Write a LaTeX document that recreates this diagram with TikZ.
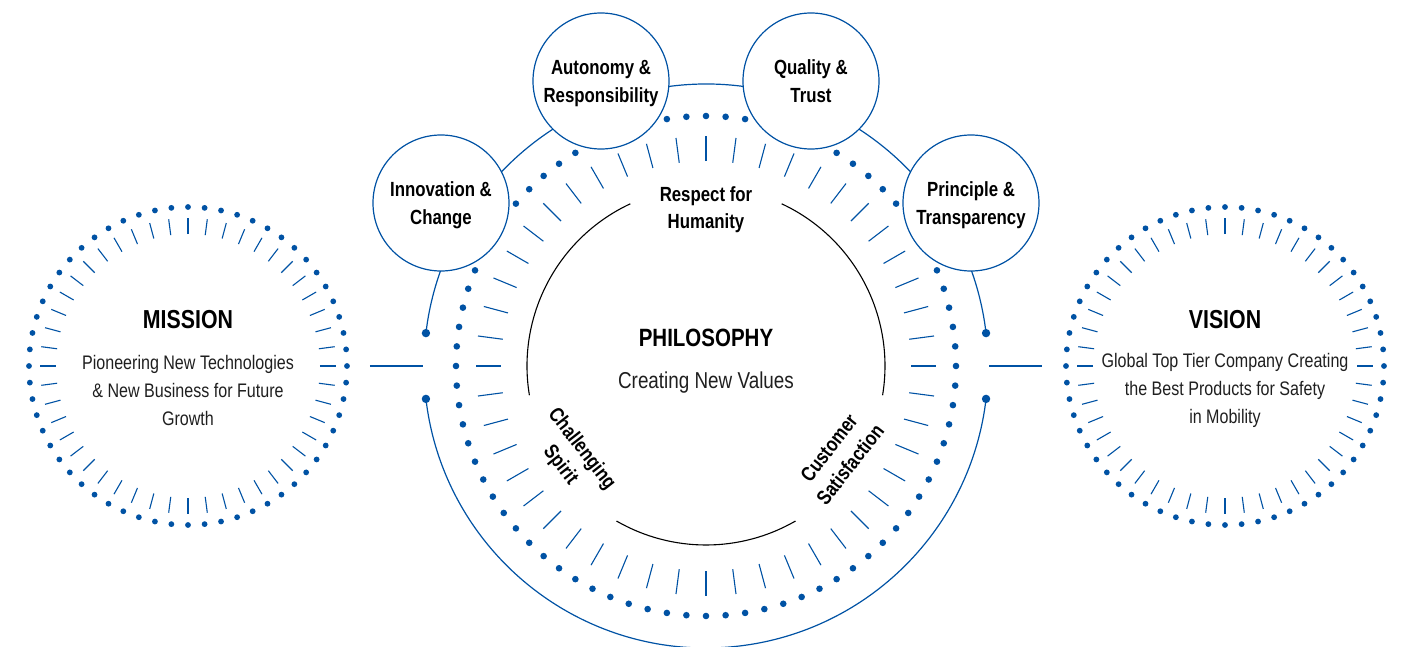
\documentclass[tikz,border=0pt]{standalone}
\usepackage{fontspec}
\setmainfont{Liberation Sans}[FakeStretch=0.82]
\usetikzlibrary{positioning}
\definecolor{hblue}{RGB}{0,82,164}

\begin{document}
\begin{tikzpicture}[x=1pt,y=1pt,
  ringtick/.style={draw=hblue, line width=1.1pt},
  ringdot/.style={fill=hblue},
  linkline/.style={draw=hblue, line width=1.2pt},
  innerarc/.style={draw=black, line width=1.1pt},
  valuecircle/.style={circle, draw=hblue, line width=1.2pt, fill=white,
    minimum size=136pt, inner sep=0pt, align=center, text depth=0pt,
    font=\bfseries\fontsize{20.5}{28}\selectfont},
  headtxt/.style={font=\bfseries\fontsize{26}{30}\selectfont},
  bodytxt/.style={align=center, text=black!88, font=\fontsize{19.6}{28}\selectfont},
  labeltxt/.style={align=center, inner sep=0pt, text depth=0pt,
    font=\bfseries\fontsize{20.5}{27}\selectfont}]

  \useasboundingbox (-706,-280) rectangle (700,366);

  % Mission and vision rings
  \foreach \cx in {-518,519}{
    \foreach \a in {0,7.5,...,352.5}
      \draw[ringtick] ([shift={(\cx,0)}]\a:132) -- ([shift={(\cx,0)}]\a:148);
    \foreach \a in {0,6,...,354}
      \fill[ringdot] ([shift={(\cx,0)}]\a:159) circle[radius=2.9];
  }

  % Philosophy ring
  \foreach \a in {0,7.5,...,352.5}
    \draw[ringtick] (\a:205) -- (\a:230);
  \foreach \a in {0,4.5,...,355.5}
    \fill[ringdot] (\a:250) circle[radius=3.3];

  % Inner circle, open at the three labels
  \foreach \s/\e in {-9.4/65, 115/189.4, 240/300}
    \draw[innerarc] (\s:179) arc[start angle=\s, end angle=\e, radius=179];

  % Outer arcs
  \draw[linkline] (6.7:282) arc[start angle=6.7, end angle=173.3, radius=282];
  \draw[linkline] (186.7:282) arc[start angle=186.7, end angle=353.3, radius=282];

  % Link ends
  \coordinate (ltop) at (173.3:282);
  \coordinate (lbot) at (186.7:282);
  \coordinate (rtop) at (6.7:282);
  \coordinate (rbot) at (-6.7:282);
  \foreach \p in {ltop,lbot,rtop,rbot}
    \fill[hblue] (\p) circle[radius=4.2];

  \coordinate (mislink) at (-336,0);
  \coordinate (phileft) at (-283,0);
  \coordinate (phiright) at (283,0);
  \coordinate (vislink) at (336,0);
  \draw[linkline] (mislink) -- (phileft);
  \draw[linkline] (phiright) -- (vislink);

  % Value circles
  \node[valuecircle] (innov) at (-265,163) {Innovation \&\\Change};
  \node[valuecircle] (autonomy) at (-105,285) {Autonomy \&\\Responsibility};
  \node[valuecircle] (quality) at (105,285) {Quality \&\\Trust};
  \node[valuecircle] (principle) at (265,163) {Principle \&\\Transparency};

  % Texts
  \node[headtxt, font=\bfseries\fontsize{25}{30}\selectfont] (phil) at (0,28) {PHILOSOPHY};
  \node[bodytxt, font=\fontsize{23}{28}\selectfont] (philsub) at (0,-17) {Creating New Values};
  \node[labeltxt] (respect) at (0,158) {Respect for\\Humanity};
  \node[labeltxt, rotate=-52] (challenge) at (214:161) {Challenging\\Spirit};
  \node[labeltxt, rotate=52] (customer) at (-34:161) {Customer\\Satisfaction};

  \node[headtxt] (mission) at (-518,46) {MISSION};
  \node[bodytxt] (missub) at (-518,-24) {Pioneering New Technologies\\\& New Business for Future\\Growth};
  \node[headtxt] (vision) at (519,46) {VISION};
  \node[bodytxt] (vissub) at (519,-24) {Global Top Tier Company Creating\\the Best Products for Safety\\in Mobility};
\end{tikzpicture}
\end{document}
